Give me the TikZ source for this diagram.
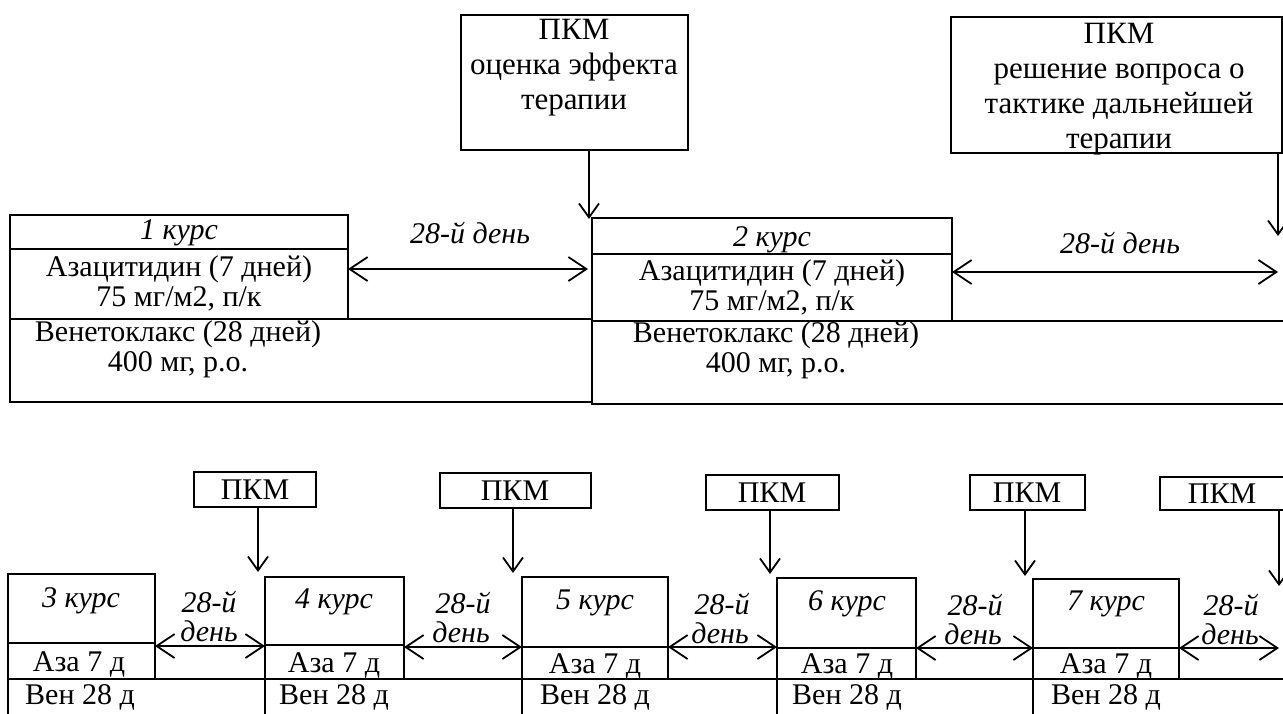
\documentclass[tikz,border=0pt]{standalone}
\usepackage{fontspec}
\setmainfont{Liberation Serif}
\usetikzlibrary{arrows.meta}
\newcommand\boxnode[5]{\node[cell, minimum width={(#4-#2)*0.5pt}, minimum height={(#5-#3)*0.5pt}] (#1) at ({(#2+#4)/2},{(#3+#5)/2}) {};}
\begin{document}
\begin{tikzpicture}[x=0.5pt,y=-0.5pt,
 cell/.style={draw, line width=0.9pt, inner sep=0pt, outer sep=0pt},
 txt/.style={font=\fontsize{15}{15}\selectfont, align=center, inner sep=0pt},
 ttl/.style={font=\fontsize{15.5}{17.5}\selectfont, align=center, inner sep=0pt},
 itx/.style={font=\fontsize{15}{15}\selectfont\itshape, align=center, inner sep=0pt},
 arr/.style={line width=0.9pt, -{Straight Barb[length=7pt,width=10pt,line width=0.9pt]}},
 darr/.style={line width=0.9pt, {Straight Barb[length=9pt,width=12pt,line width=0.9pt]}-{Straight Barb[length=9pt,width=12pt,line width=0.9pt]}}]
\useasboundingbox (0,0) rectangle (1283,713);
\fill[white] (0,0) rectangle (1283,713);

% ---------- top ----------
\boxnode{pkmA}{461}{15}{688}{150}
\node[ttl] (pkmAt) at (574,68) {ПКМ\\оценка эффекта\\терапии};
\boxnode{pkmB}{951}{17}{1282}{153}
\node[ttl] (pkmBt) at (1119,89) {ПКМ\\решение вопроса о\\тактике дальнейшей\\терапии};

\boxnode{c1hdr}{10}{215}{348}{249}
\node[itx] (c1hdrt) at (179,233) {1 курс};
\boxnode{c1aza}{10}{249}{348}{319}
\node[txt] (c1azat) at (179,283) {Азацитидин (7 дней)\\75 мг/м2, п/к};
\boxnode{c1ven}{10}{319}{592}{402}
\node[txt] (c1vent) at (178,349) {Венетоклакс (28 дней)\\400 мг, р.о.};

\boxnode{c2hdr}{592}{218}{952}{254}
\node[itx] (c2hdrt) at (772,240) {2 курс};
\boxnode{c2aza}{592}{254}{952}{321}
\node[txt] (c2azat) at (772,287) {Азацитидин (7 дней)\\75 мг/м2, п/к};
\boxnode{c2ven}{592}{321}{1295}{404}
\node[txt] (c2vent) at (776,350) {Венетоклакс (28 дней)\\400 мг, р.о.};

\coordinate (tipA) at (589,219);
\draw[arr] (pkmA.south -| tipA) -- (tipA);
\coordinate (tipB) at (1278,236);
\draw[arr] (pkmB.south -| tipB) -- (tipB);

\coordinate (d1y) at (0,269);
\coordinate (d2y) at (0,272);
\draw[darr] (c1aza.east |- d1y) -- ([xshift=-2pt]c2aza.west |- d1y);
\draw[darr] (c2aza.east |- d2y) -- (tipB |- d2y);
\node[itx] (d1l) at (470,233) {28-й день};
\node[itx] (d2l) at (1120,243) {28-й день};

% ---------- bottom ----------
\boxnode{p3}{194}{472}{316}{507}
\node[txt] (p3t) at (255,490) {ПКМ};
\boxnode{p4}{440}{473}{591}{508}
\node[txt] (p4t) at (515,491) {ПКМ};
\boxnode{p5}{706}{475}{839}{510}
\node[txt] (p5t) at (772,493) {ПКМ};
\boxnode{p6}{970}{475}{1085}{510}
\node[txt] (p6t) at (1027,493) {ПКМ};
\boxnode{p7}{1160}{477}{1295}{510}
\node[txt] (p7t) at (1222,494) {ПКМ};

\boxnode{c3hdr}{8}{574}{155}{643}
\boxnode{c3aza}{8}{643}{155}{679}
\boxnode{c4hdr}{265}{577}{404}{645}
\boxnode{c4aza}{265}{645}{404}{679}
\boxnode{c5hdr}{522}{577}{668}{647}
\boxnode{c5aza}{522}{647}{668}{679}
\boxnode{c6hdr}{777}{578}{916}{648}
\boxnode{c6aza}{777}{648}{916}{679}
\boxnode{c7hdr}{1033}{579}{1179}{648}
\boxnode{c7aza}{1033}{648}{1179}{679}

\boxnode{v3}{8}{679}{265}{730}
\boxnode{v4}{265}{679}{522}{730}
\boxnode{v5}{522}{679}{777}{730}
\boxnode{v6}{777}{679}{1033}{730}
\boxnode{v7}{1033}{679}{1295}{730}

\node[itx] (c3t) at (81,601) {3 курс};
\node[itx] (c4t) at (334,602) {4 курс};
\node[itx] (c5t) at (595,603) {5 курс};
\node[itx] (c6t) at (847,604) {6 курс};
\node[itx] (c7t) at (1106,604) {7 курс};

\node[txt] (a3t) at (79,664) {Аза 7 д};
\node[txt] (a4t) at (334,665) {Аза 7 д};
\node[txt] (a5t) at (595,666) {Аза 7 д};
\node[txt] (a6t) at (847,666) {Аза 7 д};
\node[txt] (a7t) at (1106,666) {Аза 7 д};

\node[txt] (w3t) at (80,697) {Вен 28 д};
\node[txt] (w4t) at (334,697) {Вен 28 д};
\node[txt] (w5t) at (595,697) {Вен 28 д};
\node[txt] (w6t) at (847,697) {Вен 28 д};
\node[txt] (w7t) at (1106,697) {Вен 28 д};

\coordinate (t3) at (258,572);
\coordinate (t4) at (513,573);
\coordinate (t5) at (770,574);
\coordinate (t6) at (1025,576);
\coordinate (t7) at (1279,586);
\draw[arr] (p3.south -| t3) -- (t3);
\draw[arr] (p4.south -| t4) -- (t4);
\draw[arr] (p5.south -| t5) -- (t5);
\draw[arr] (p6.south -| t6) -- (t6);
\draw[arr] (p7.south -| t7) -- (t7);

\draw[darr] ([yshift=-1.5pt]c3hdr.south east) -- ([yshift=-1.5pt]c3hdr.south east -| c4hdr.west);
\draw[darr] ([yshift=-1pt]c4hdr.south east) -- ([yshift=-1pt]c4hdr.south east -| c5hdr.west);
\draw[darr] (c5hdr.south east) -- (c5hdr.south east -| c6hdr.west);
\draw[darr] (c6hdr.south east) -- (c6hdr.south east -| c7hdr.west);
\draw[darr] (c7hdr.south east) -- (t7 |- c7hdr.south);

\node[itx] (g34a) at (209,602) {28-й};
\node[itx] (g34b) at (209,631) {день};
\node[itx] (g45a) at (463,603) {28-й};
\node[itx] (g45b) at (461,632) {день};
\node[itx] (g56a) at (722,604) {28-й};
\node[itx] (g56b) at (720,633) {день};
\node[itx] (g67a) at (975,605) {28-й};
\node[itx] (g67b) at (973,634) {день};
\node[itx] (g7a) at (1231,605) {28-й};
\node[itx] (g7b) at (1230,634) {день};
\end{tikzpicture}
\end{document}
